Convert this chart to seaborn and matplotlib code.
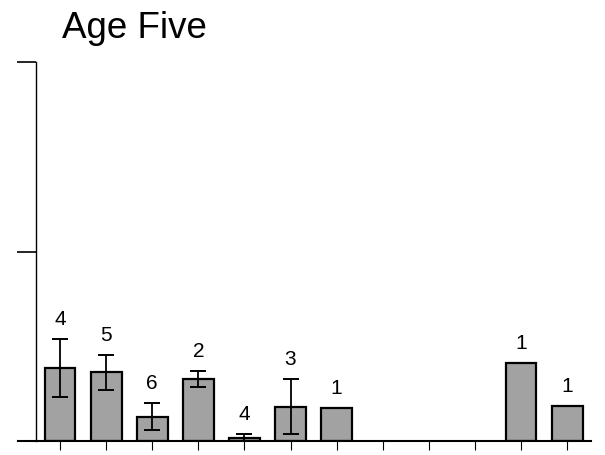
import numpy as np
import pandas as pd
import matplotlib
matplotlib.use("Agg")
import matplotlib.pyplot as plt
import seaborn as sns

# Group means, standard errors and sample sizes (empty groups have no data)
groups = ["G1", "G2", "G3", "G4", "G5", "G6", "G7", "G8", "G9", "G10", "G11", "G12"]
means = [0.386, 0.362, 0.128, 0.328, 0.014, 0.178, 0.176, np.nan, np.nan, np.nan, 0.410, 0.186]
errors = [0.152, 0.092, 0.071, 0.041, 0.022, 0.146, np.nan, np.nan, np.nan, np.nan, np.nan, np.nan]
err_centers = [0.386, 0.362, 0.128, 0.328, 0.013, 0.181, np.nan, np.nan, np.nan, np.nan, np.nan, np.nan]
sample_sizes = ["4", "5", "6", "2", "4", "3", "1", "", "", "", "1", "1"]
y_ticks = [1, 2]

df = pd.DataFrame({"group": groups, "mean": means})

sns.set_theme(style="white")
plt.rcParams["font.family"] = ["Liberation Sans", "DejaVu Sans"]

fig = plt.figure(figsize=(6.05, 4.55), dpi=100)
ax = fig.add_axes([18 / 605, 14 / 455, 573 / 605, 379 / 455])

sns.barplot(data=df, x="group", y="mean", order=groups, color="#a2a2a2",
            saturation=1, width=0.67, edgecolor="black", linewidth=1.6,
            errorbar=None, ax=ax)

idx = np.arange(len(groups))
ax.errorbar(idx, err_centers, yerr=errors, fmt="none", ecolor="black",
            elinewidth=1.3, capsize=6.1, capthick=1.4, zorder=5)

# Sample size above each bar (above the error bar where there is one)
for i, label in enumerate(sample_sizes):
    if not label:
        continue
    top = means[i]
    if not np.isnan(errors[i]):
        top = err_centers[i] + errors[i]
    ax.annotate(label, (i, top), xytext=(0, 14), textcoords="offset points",
                ha="center", va="center", fontsize=15, color="black")

ax.set_xlim(-0.911, 11.518)
ax.set_ylim(0, 2)
ax.set_xlabel("")
ax.set_ylabel("")

for side in ["top", "right"]:
    ax.spines[side].set_visible(False)
ax.spines["left"].set_position(("data", -0.52))
ax.spines["left"].set_bounds(0, 2)
ax.spines["left"].set_linewidth(1.0)
ax.spines["left"].set_color("black")
ax.spines["bottom"].set_linewidth(1.5)
ax.spines["bottom"].set_color("black")

ax.set_yticks(y_ticks)
ax.set_yticklabels([])
ax.tick_params(axis="y", direction="out", length=13.7, width=1.2, color="black", left=True)
ax.set_xticks(idx)
ax.set_xticklabels([])
ax.tick_params(axis="x", direction="out", length=6.5, width=0.8, color="black", bottom=True, pad=2)

fig.text(62 / 605, (455 - 38) / 455, "Age Five", fontsize=26.5, ha="left", va="baseline", color="black")

fig.savefig("out.png", dpi=100)
